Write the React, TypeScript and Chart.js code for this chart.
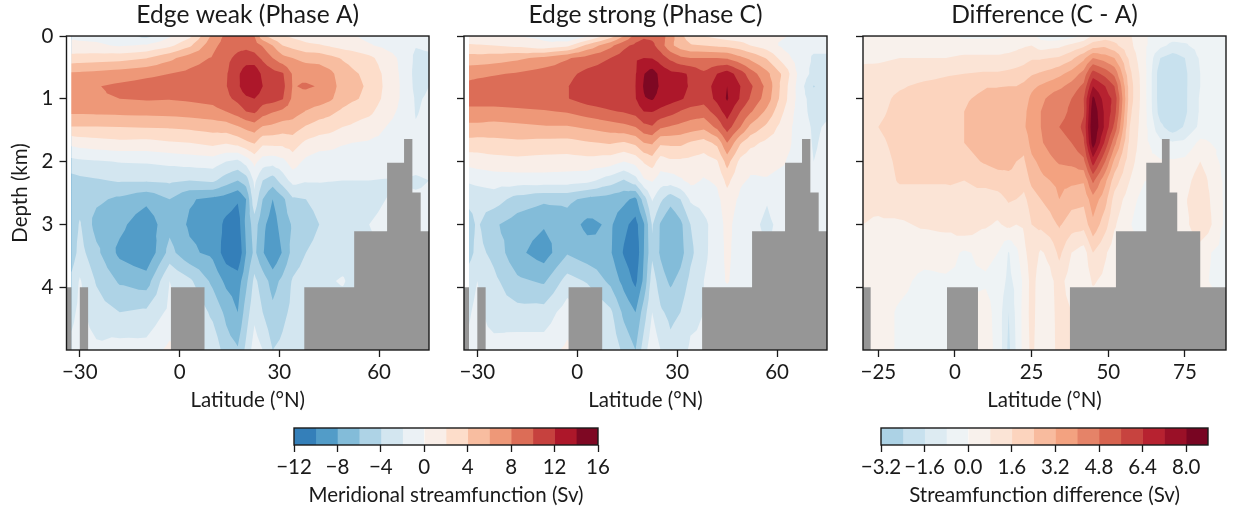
import React, { useEffect, useRef } from "react";
import { Chart, registerables } from "chart.js";
Chart.register(...registerables);

const depthLevels = [0, 0.15, 0.35, 0.6, 0.8, 1, 1.2, 1.45, 1.7, 2, 2.3, 2.6, 3, 3.45, 3.9, 4.4, 5];
const latColumns = [-32.5, -30, -25, -18, -10, -3, 3, 10, 14, 17.5, 20, 22.5, 25, 28, 31, 34, 38, 42, 45, 49, 52, 57, 62, 67, 71, 75];
const latColumnsDiff = [-30, -25, -18, -10, -3, 3, 10, 14, 17.5, 20, 22.5, 25, 28, 31, 34, 38, 42, 45, 49, 52, 57, 62, 67, 71, 75, 80, 88.4];

const weakRows = [
  [-.3,-.4,-.5,-1,-2.6,-.3,1.5,6.5,8.5,9,8.8,8,4.5,3,2.2,1.6,1,.6,.5,.3,.2,-.6,-1,-1.2,-1.4,-1.2],
  [.5,.4,.3,-.2,.2,1.5,3.6,7.5,8.8,9.4,9.5,9,7.8,6,4,3.3,2.5,2.2,1.8,1.2,.9,.2,-.5,-1,-1.9,-1.7],
  [2.8,2.9,3,3.2,3.9,5.5,7,8.2,9.5,10.5,11,10.8,9.6,8,6.6,6,5.3,5.2,4.6,3.8,3.4,2.5,1,-.5,-2.4,-2.3],
  [6.3,6.4,6.6,7,7.6,8,8.5,9.2,9.8,11.6,13.2,13.5,11.5,10.8,10.2,7.8,7.5,7.2,6.6,5,4.3,3.5,1.5,-.4,-2.6,-2.3],
  [7.4,7.6,7.9,8.4,8.7,8.9,9.1,9.4,9.9,11.5,13.6,13.8,12,11,10.6,7.9,8.2,7.9,7,5.2,4.6,3.7,1.6,-.3,-2.5,-2],
  [7.5,7.6,7.8,8,8.2,8.1,8.3,8.6,9.5,10.5,11.5,12,11,10.8,10.1,7.6,7.4,7,6.4,5,4.3,3.5,1.4,-.3,-2.2,-1.8],
  [6.4,6.4,6.5,6.6,6.7,6.8,7,7.4,8,9,10,10.4,9,8.2,7.6,7,5.9,5.1,4.6,3.6,3,2.5,.8,-.5,-2.1,-1.7],
  [3.9,3.9,3.9,4,4.1,4.2,4.4,4.8,5,5.8,6.5,7,5.8,5.5,5,5,3.8,3,2.8,2,1.7,1,0,-.8,-1.9,-1.6],
  [.6,.9,1.2,1.5,1.4,1.8,2,2.6,2.2,2.8,3.6,4.2,2.5,2.6,2.6,3,1.6,1,.8,.2,0,-.2,-.5,-1,-1.7,-1.5],
  [-2.6,-2.4,-2.2,-1.9,-1.8,-1.5,-1.2,-1,-2,-2.5,-1.2,.6,-1,-1.2,-.6,1,-.5,-1.2,-1.2,-1.2,-1.2,-1,-1,-1.2,-1.5,-1.4],
  [-4.8,-4.5,-4.2,-3.8,-3.8,-3.6,-4,-3.6,-5,-6,-5,-1.5,-4,-5,-3,-1.3,-1.8,-1.8,-1.9,-2,-2,-2,-2.1,-2.2,-2.2,-2],
  [-5.5,-4.8,-5.6,-6.4,-7.5,-6,-7.8,-8.5,-9,-9.8,-8,-2.5,-6,-8,-6.5,-4.3,-4,-3.5,-3.4,-3.3,-3,-2.5,-2,-1.6,-1.8,-1.8],
  [-5.2,-3.8,-6.8,-7.5,-9.3,-6.6,-8.3,-8.8,-10.5,-11,-7.5,-5,-7.5,-9,-7,-5.8,-4.7,-4,-3.6,-3.2,-2.8,-2,-1.6,-1.6,-1.8,-1.8],
  [-5.2,-3.2,-5.5,-8.5,-9.8,-5.3,-7.6,-8.5,-11,-11.8,-8,-5.5,-7.8,-9.8,-7.8,-5.3,-4,-3.5,-3.2,-3,-2.8,-2.2,-2,-2,-2,-2],
  [-3.5,-1.8,-4.2,-6.3,-7,-2,-3.6,-6.5,-8.5,-9,-6.5,-3.5,-5,-6.8,-5.5,-3.8,-3,-2.5,-2.2,-1.8,-2.5,-2.4,-2,-2,-2,-2],
  [-2.5,-1.5,-3,-4,-3.6,-1.5,-2,-4.5,-6.5,-8,-5,-2.5,-4,-5.5,-4.5,-3.5,-3,-3,-3,-3,-3,-3,-3,-3,-3,-3],
  [-1.5,-1,-1.6,-1.1,-1.2,.5,-1,-2.5,-5,-5.8,-3.5,-1,-2,-4,-3.5,-2.5,-2,-2,-2,-2,-2,-2,-2,-2,-2,-2],
];

const strongRows = [
  [.3,.3,.2,0,-.5,-2.2,-.3,3,6,8.8,9.6,9.5,9,7,4.5,3,2,1.4,1,.8,.5,.4,.2,-.8,-1.3,-1.3],
  [2.3,2.2,2,1.5,.5,1.5,4.5,7.5,9.5,10.5,11,10.5,9,6.5,5,4.2,4,3.6,3.4,2.8,2,1,-.5,-1.5,-1.6,-1.6],
  [4.8,4.8,5,5.6,6.5,7.8,8.8,10,11,11.8,12,11.9,11,9.5,8.4,8,8,8,7.8,6.5,5.5,3.8,1,-1.2,-2.2,-2.2],
  [7.3,7.5,7.8,8.2,8.9,9.4,10.6,11.2,11.7,11.9,13.9,15,13.4,12.5,12.3,11.8,10.4,12,13,11,9,6.5,3.5,-.8,-2.6,-2.5],
  [8.6,8.8,9,9.3,9.6,9.9,11.3,11.8,11.9,12,14.2,15.4,13.6,12.8,12.6,11.8,11,12.8,14,12,10.4,7.4,3,-1.2,-4.1,-2.8],
  [9.1,9.1,9.1,9.3,9.6,9.9,10.9,11.5,11.8,11.9,13.8,14.2,13.2,12.8,12.2,11.5,10.8,12.5,14.2,11.8,9.8,7,2.8,-1.1,-3,-2.7],
  [7.3,7.3,7.3,7.5,7.8,8.2,9,9.8,10.2,10.8,12,12.1,11.5,10.8,9.9,9.2,9,11,13,10,8.3,5.5,2,-1.2,-2.7,-2.3],
  [5.5,5.5,5.3,5.5,5.8,5.8,6.3,7,7.4,8,9.4,9.8,8.3,7.8,7.4,7,6.5,8.5,11,8,5.5,3.5,1,-1,-2.3,-1.8],
  [3.3,3.2,3.4,3.6,3.4,3.3,3.8,4.2,3.8,4.5,6,6.3,4.4,4.5,4.5,3.8,3.2,4.5,8,4.2,2.6,1.5,.6,-.7,-2.2,-1.6],
  [.7,.9,1.2,1.4,1.2,1.1,1.3,.9,0,.7,2.2,3,1,1.6,1.6,1.4,1,1.8,4.8,1.4,.5,.4,.1,-.7,-2,-1.5],
  [-1.7,-1.4,-1.1,-1,-.9,-1,-1.4,-3,-4.2,-2.8,-.3,.2,-1,-1,-.3,.6,-.2,.3,2.6,.3,-.2,-.1,-.4,-1,-1.8,-1.4],
  [-3.5,-3.4,-3,-4.8,-5.6,-5.5,-6.5,-7,-7.5,-8.5,-5,-1.8,-3.6,-5.2,-4,-1.7,-1.2,-.5,1.1,-.4,-1.2,-1.9,-.9,-1,-1.7,-1.3],
  [-4.8,-3.7,-5.7,-7,-7.8,-7,-8.5,-7.7,-9.5,-10.7,-8.2,-3.8,-6.2,-8,-6.5,-4,-2.5,-1,.6,-1,-1.6,-2.3,-1.5,-1,-1.7,-1.2],
  [-4.8,-3.3,-4.6,-7.5,-9,-6.2,-7.2,-7.8,-10.2,-11.5,-8,-4.4,-6.3,-8,-6.8,-4.5,-2.5,-.9,.4,-.9,-1.5,-1.8,-1.5,-1,-1.7,-1.2],
  [-2.8,-2,-3.5,-5.6,-6.3,-3.2,-4.2,-6.5,-8.7,-10.5,-7.5,-3,-5,-6.4,-5.3,-3.5,-2,-.8,.2,-1,-1.3,-1.2,-1.2,-1,-1.7,-1.2],
  [-2.2,-1.5,-3,-3.3,-3.2,-1,-1.8,-3.6,-6.5,-8,-5,-2,-3.7,-4.5,-4,-2.5,-2,-2,-2,-2,-2,-2,-2,-2,-2,-2],
  [-1.6,-1,-1.2,-.8,-.9,.4,-1,-2.5,-4.5,-6,-3,-.5,-2,-3.4,-2.8,-1.7,-1.7,-1.7,-1.7,-1.7,-1.7,-1.7,-1.7,-1.7,-1.7,-1.7],
];

const diffRows = [
  [.3,.3,.3,.3,.3,-.2,-.2,-.2,.1,.2,.2,.3,-.3,-.5,-.5,-.3,.2,.9,1.2,1.2,.9,.1,-.4,-.5,-.5,-.5,-.4],
  [.4,.4,.4,.4,.5,.5,.5,.5,.5,.6,.7,.8,.4,.5,.6,1,1.4,2,2.2,1.8,1,.1,-.6,-1,-.9,-.5,-.4],
  [.7,.7,.8,.8,.8,.9,.9,.9,1,1.1,1.3,1.5,1.5,1.6,1.7,2.2,3,4,3.6,3.2,1.4,.1,-1.6,-2,-1.6,-.7,-.4],
  [.95,1,1.1,1.3,1.5,1.6,1.7,1.7,1.8,1.9,2,2.3,2.5,2.7,3,3.5,4.3,6,5.3,4.6,1.8,.2,-2.1,-2.2,-1.75,-.8,-.4],
  [1,1.2,1.5,1.8,1.9,2.1,2.35,2.35,2.4,2.4,2.6,3,3.3,3.6,3.8,4.3,5,7.2,6.4,5.6,2,.2,-2.1,-2.3,-1.75,-.8,-.4],
  [1,1.3,1.8,2,2.1,2.3,2.6,2.9,2.9,2.8,2.8,3.4,3.8,4.2,4.6,4.8,5.6,8.2,6.8,6.2,2,.2,-2.1,-2.3,-1.75,-.7,-.4],
  [1,1.4,1.9,2.1,2.2,2.4,2.8,3,3,2.9,3,3.6,4,4.4,4.6,4.9,5.5,8.6,7,6,1.8,.2,-2,-2.3,-1.75,-.7,-.4],
  [1.05,1.6,2,2.2,2.3,2.4,2.9,3.1,3.1,3,3.1,3.6,4,4.4,4.8,5,5.8,8.8,7,5.4,1.6,.2,-1.4,-2.1,-1.5,-.6,-.4],
  [1.1,1.4,1.9,2.1,2.2,2.4,2.8,3,3,2.7,2.6,3.5,3.9,4.3,4.6,4.8,5.5,8.5,6.2,4.3,1.4,.2,-.6,-.7,-.6,.2,-.3],
  [1.1,1.2,1.8,2,2,2.1,2.5,2.7,2.6,2.4,2.3,3,3.4,3.8,4.1,4.2,4.6,6.8,4.8,3,1.1,.2,.1,.1,.2,.8,-.3],
  [1.05,1.1,1.7,1.7,1.7,1.6,1.8,2,2.2,2.2,1.9,2.6,3,3.2,3.4,3.4,3.3,5,3.4,2,.8,0,.2,.3,.5,1.2,-.2],
  [.95,1,1.2,1.2,1.2,1.5,1.3,1.3,1.7,1.6,1.4,2,2.4,2.7,3.2,2.7,2.6,3.7,2.7,1.3,.4,-.4,0,.3,.7,1.4,-.2],
  [.8,.7,.7,.9,1,1.4,.9,.7,1,.8,.9,1.6,1.8,2.1,2.5,2,1.9,3,1.9,.9,.1,-.8,.2,.3,.5,1.6,-.2],
  [.5,.5,.4,.3,.3,-.1,.2,0,-.85,-.2,.6,1.2,.7,1,1.8,.8,.4,1.6,.9,.4,.2,.2,.2,.2,.2,.3,-.4],
  [.4,.4,.2,-.2,-.1,-.1,-.1,-.3,-1,-.6,.2,1.1,.4,.6,1.1,.4,.3,.9,.6,.3,.2,.2,.2,.2,.2,.2,-.4],
  [.3,.3,-.1,-.3,-.2,.1,.3,-.3,-1.6,-.6,.3,1.1,.3,.5,1.1,.8,.3,.3,.3,.3,.3,.3,.3,.3,.3,.3,.3],
  [.3,.3,-.1,-.2,-.2,.3,.3,-.2,-1.8,-.7,.3,1,.3,.3,1.2,1,.3,.3,.3,.3,.3,.3,.3,.3,.3,.3,.3],
];

const maskLat = [-34, -32.5, -30, -27.5, -2.6, 7.5, 37.5, 52.5, 62.4, 67.5, 70, 72.5, 80, 89];
const maskDepth = [4, 5, 4, 5, 4, 5, 4, 3.11, 2.02, 1.64, 2.49, 3.11, 4, 4];

const streamLevels = [-12, -10, -8, -6, -4, -2, 0, 2, 4, 6, 8, 10, 12, 14, 16];
const diffLevels = [-3.2, -2.4, -1.6, -0.8, 0, 0.8, 1.6, 2.4, 3.2, 4, 4.8, 5.6, 6.4, 7.2, 8, 8.8];
const streamTicks = [-12, -8, -4, 0, 4, 8, 12, 16];
const diffTicks = [-3.2, -1.6, 0, 1.6, 3.2, 4.8, 6.4, 8];
const latTicks = [-30, 0, 30, 60];
const latTicksDiff = [-25, 0, 25, 50, 75];
const depthTicks = [0, 1, 2, 3, 4];

const rdbuStops = [
  [5, 48, 97], [33, 102, 172], [67, 147, 195], [146, 197, 222], [209, 229, 240], [247, 247, 247],
  [253, 219, 199], [244, 165, 130], [214, 96, 77], [178, 24, 43], [103, 0, 31],
];
const INK = "#1a1a1a";
const FONT = "Lato, sans-serif";
const LABEL_SIZE = 20.5;
const TITLE_SIZE = 24.6;
Chart.defaults.font.family = FONT;
Chart.defaults.color = INK;

function rdbu(t: number) {
  const p = Math.max(0, Math.min(0.9999, t)) * 10;
  const i = Math.floor(p);
  const f = p - i;
  const c = rdbuStops[i].map((a, k) => Math.round(a + (rdbuStops[i + 1][k] - a) * f));
  return `rgb(${c[0]},${c[1]},${c[2]})`;
}
function bandColours(levels: number[], limit: number) {
  return levels.slice(0, -1).map((l, i) => rdbu(((l + levels[i + 1]) / 2 + limit) / (2 * limit)));
}
const fmtMinus = (v: number, d = 0) => (v < 0 ? "\u2212" : "") + Math.abs(v).toFixed(d);

function clipTri(tri: number[][], level: number) {
  const out: number[][] = [];
  for (let i = 0; i < 3; i++) {
    const a = tri[i], b = tri[(i + 1) % 3];
    const ia = a[2] >= level, ib = b[2] >= level;
    if (ia) out.push(a);
    if (ia !== ib) {
      const f = (level - a[2]) / (b[2] - a[2]);
      out.push([a[0] + (b[0] - a[0]) * f, a[1] + (b[1] - a[1]) * f, level]);
    }
  }
  return out;
}

const contourPlugin = {
  id: "contour",
  beforeDatasetsDraw(chart: any, _a: any, o: any) {
    const { ctx, chartArea, scales } = chart;
    const xs = o.lats.map((v: number) => scales.x.getPixelForValue(v));
    const ys = depthLevels.map((v) => scales.y.getPixelForValue(v));
    const tris: number[][][] = [];
    for (let j = 0; j < ys.length - 1; j++) {
      for (let i = 0; i < xs.length - 1; i++) {
        const p = [
          [xs[i], ys[j], o.rows[j][i]],
          [xs[i + 1], ys[j], o.rows[j][i + 1]],
          [xs[i + 1], ys[j + 1], o.rows[j + 1][i + 1]],
          [xs[i], ys[j + 1], o.rows[j + 1][i]],
        ];
        const c = [0, 1, 2].map((k) => (p[0][k] + p[1][k] + p[2][k] + p[3][k]) / 4);
        for (let k = 0; k < 4; k++) tris.push([p[k], p[(k + 1) % 4], c]);
      }
    }
    ctx.save();
    ctx.beginPath();
    ctx.rect(chartArea.left, chartArea.top, chartArea.width, chartArea.height);
    ctx.clip();
    o.colours.forEach((col: string, n: number) => {
      const lvl = n === 0 ? -Infinity : o.levels[n];
      ctx.beginPath();
      for (const t of tris) {
        const poly = clipTri(t, lvl);
        if (poly.length < 3) continue;
        ctx.moveTo(poly[0][0], poly[0][1]);
        for (let q = 1; q < poly.length; q++) ctx.lineTo(poly[q][0], poly[q][1]);
        ctx.closePath();
      }
      ctx.fillStyle = col;
      ctx.fill();
    });
    ctx.restore();
  },
};
const framePlugin = {
  id: "frame",
  afterDraw(chart: any) {
    const { ctx, chartArea: a } = chart;
    ctx.save();
    ctx.strokeStyle = INK;
    ctx.lineWidth = 1.4;
    ctx.strokeRect(a.left, a.top, a.right - a.left, a.bottom - a.top);
    ctx.restore();
  },
};

const tickGrid = { drawOnChartArea: false, drawTicks: true, tickLength: 7, tickColor: INK, tickWidth: 1.3 };

function Panel(p: any) {
  const ref = useRef<HTMLCanvasElement>(null);
  useEffect(() => {
    const points = maskLat.map((x, i) => ({ x, y: maskDepth[i] }));
    const chart = new Chart(ref.current!, {
      type: "line",
      data: {
        datasets: [{
          data: points, stepped: "before", fill: { value: 5 }, borderWidth: 0,
          backgroundColor: "#969696", borderColor: "#969696", pointRadius: 0,
        }],
      },
      options: {
        animation: false, responsive: false, events: [],
        layout: { padding: { right: p.padRight } },
        plugins: {
          legend: { display: false }, tooltip: { enabled: false },
          title: { display: true, text: p.title, fullSize: false, font: { size: TITLE_SIZE, weight: "normal", family: FONT }, color: INK, padding: { top: 0, bottom: 6.5 } },
          contour: { lats: p.lats, rows: p.rows, levels: p.levels, colours: p.colours },
        },
        scales: {
          x: {
            type: "linear", min: p.xMin, max: p.xMax,
            afterBuildTicks: (s: any) => { s.ticks = p.xTicks.map((value: number) => ({ value })); },
            afterFit: (s: any) => { s.height = 70; },
            ticks: { font: { size: LABEL_SIZE }, color: INK, padding: 3, maxRotation: 0, autoSkip: false, callback: (v: number) => fmtMinus(v) },
            grid: tickGrid, border: { display: false },
            title: { display: true, text: "Latitude (\u00b0N)", font: { size: LABEL_SIZE }, color: INK, padding: { top: 0, bottom: 7 } },
          },
          y: {
            type: "linear", reverse: true, min: 0, max: 5,
            afterBuildTicks: (s: any) => { s.ticks = depthTicks.map((value) => ({ value })); },
            afterFit: (s: any) => { s.width = p.axisWidth; },
            ticks: { font: { size: LABEL_SIZE }, color: INK, padding: 6, autoSkip: false, display: p.showY, callback: (v: number) => String(v) },
            grid: tickGrid, border: { display: false },
            title: { display: p.showY, text: "Depth (km)", font: { size: LABEL_SIZE }, color: INK, padding: { top: 8, bottom: 0 } },
          },
        },
      },
      plugins: [contourPlugin, framePlugin],
    } as any);
    return () => chart.destroy();
  }, []);
  return <canvas ref={ref} width={p.width} height={420} style={{ position: "absolute", left: p.left, top: 0, width: p.width, height: 420 }} />;
}

function ColourBar(p: any) {
  const ref = useRef<HTMLCanvasElement>(null);
  useEffect(() => {
    const chart = new Chart(ref.current!, {
      type: "bar",
      data: {
        labels: ["bar"],
        datasets: p.colours.map((c: string, i: number) => ({
          data: [[p.levels[i], p.levels[i + 1]]], backgroundColor: c, borderWidth: 0,
          barPercentage: 1, categoryPercentage: 1, grouped: false,
        })),
      },
      options: {
        indexAxis: "y", animation: false, responsive: false, events: [],
        layout: { padding: { left: p.padLeft, right: p.padRight, top: 8 } },
        plugins: { legend: { display: false }, tooltip: { enabled: false } },
        scales: {
          y: { display: false },
          x: {
            type: "linear", min: p.levels[0], max: p.levels[p.levels.length - 1],
            afterBuildTicks: (s: any) => { s.ticks = p.ticks.map((value: number) => ({ value })); },
            afterFit: (s: any) => { s.height = 63; },
            ticks: { font: { size: LABEL_SIZE }, color: INK, padding: 3, maxRotation: 0, autoSkip: false, callback: (v: number) => fmtMinus(v, p.digits) },
            grid: tickGrid, border: { display: false },
            title: { display: true, text: p.label, font: { size: LABEL_SIZE }, color: INK, padding: { top: 0, bottom: 0 } },
          },
        },
      },
      plugins: [framePlugin],
    } as any);
    return () => chart.destroy();
  }, []);
  return <canvas ref={ref} width={p.width} height={88} style={{ position: "absolute", left: p.left, top: 420, width: p.width, height: 88 }} />;
}

export default function App() {
  const streamColours = bandColours(streamLevels, 16);
  const diffColours = bandColours(diffLevels, 8.8);
  return (
    <div style={{ position: "absolute", left: 0, top: 0, width: 1233, height: 508, background: "#fff", overflow: "hidden" }}>
      <Panel left={0} width={445} axisWidth={66.5} padRight={16} showY title="Edge weak (Phase A)" lats={latColumns} rows={weakRows} levels={streamLevels} colours={streamColours} xMin={-34} xMax={75} xTicks={latTicks} />
      <Panel left={445} width={400} axisWidth={19} padRight={18} showY={false} title="Edge strong (Phase C)" lats={latColumns} rows={strongRows} levels={streamLevels} colours={streamColours} xMin={-34} xMax={75} xTicks={latTicks} />
      <Panel left={845} width={388} axisWidth={18} padRight={7} showY={false} title="Difference (C - A)" lats={latColumnsDiff} rows={diffRows} levels={diffLevels} colours={diffColours} xMin={-30} xMax={88.4} xTicks={latTicksDiff} />
      <ColourBar left={270} width={360} padLeft={24} padRight={32} levels={streamLevels} colours={streamColours} ticks={streamTicks} digits={0} label="Meridional streamfunction (Sv)" />
      <ColourBar left={850} width={383} padLeft={31} padRight={25} levels={diffLevels} colours={diffColours} ticks={diffTicks} digits={1} label="Streamfunction difference (Sv)" />
    </div>
  );
}
